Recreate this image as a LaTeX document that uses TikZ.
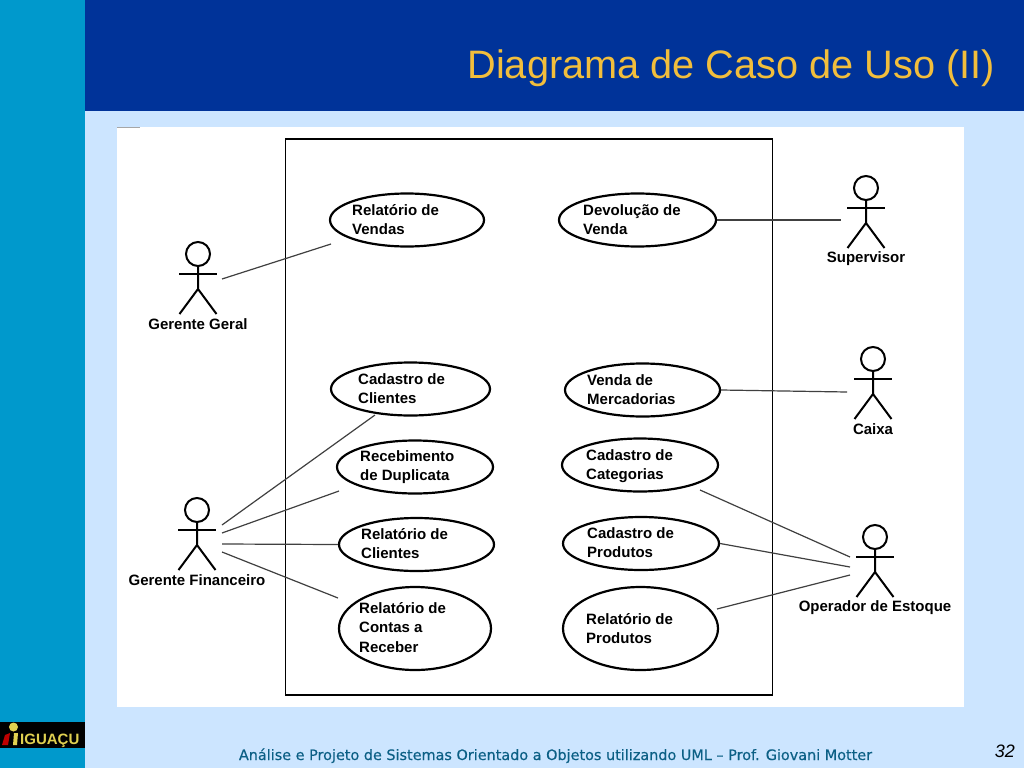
\documentclass[tikz,border=0pt]{standalone}
\usepackage{fontspec}
\setmainfont{Liberation Sans}
\newfontfamily\footfont[FakeBold=0.35]{DejaVu Sans}
\usetikzlibrary{shapes.geometric}

\definecolor{barBlue}{HTML}{003399}
\definecolor{sideBlue}{HTML}{0099CC}
\definecolor{paleBlue}{HTML}{CCE5FF}
\definecolor{titleGold}{HTML}{F2BE3C}
\definecolor{footBlue}{HTML}{0B5F85}
\definecolor{logoGold}{HTML}{E0D050}

\tikzset{
  usecase/.style={draw, ellipse, line width=2.2pt, minimum height=53pt, inner sep=0pt},
  caselabel/.style={font=\fontsize{15}{19.5}\selectfont\bfseries, align=left, anchor=north west, inner sep=0pt},
  actorname/.style={font=\fontsize{15}{16}\selectfont\bfseries, inner sep=0pt, anchor=base},
  assoc/.style={draw=black!75, line width=1.2pt},
  limb/.style={line width=2pt}
}

% head centre, name
\newcommand{\actor}[4]{
  \coordinate (#4) at (#1, #2);
  \draw[limb] (#4) ++(0, 0) circle (12);
  \draw[limb] (#4) ++(0, 12) -- ++(0, 23) -- ++(-18.5, 25) ++(18.5, -25) -- ++(18.5, 25);
  \draw[limb] (#4) ++(-19, 20) -- ++(38, 0);
  \node[actorname] (#4Label) at (#1, #2 + #3) {\actorText};
}

\begin{document}
\begin{tikzpicture}[x=1pt, y=-1pt]
      \useasboundingbox (0, 0) rectangle (1024, 768);

      % Slide
      \fill[paleBlue] (0, 0) rectangle (1024, 768);
      \fill[sideBlue] (0, 0) rectangle (85, 768);
      \fill[barBlue] (85, 0) rectangle (1024, 110.5);
      \node[anchor=base east, inner sep=0pt, text=titleGold, font=\fontsize{39.7}{44}\selectfont] (title) at (995, 78) {Diagrama de Caso de Uso (II)};
      \fill[white] (117, 127) rectangle (964, 707);
      \draw[black!35, line width=0.7pt] (117, 127.5) -- (140, 127.5);

      % Logo
      \fill[black] (0, 722) rectangle (85, 748);
      \fill[logoGold] (13.5, 727) circle (4.5);
      \fill[red!75!black] (2, 745) -- (5, 735) -- (10, 733) -- (8, 745) -- cycle;
      \fill[logoGold] (14, 733) -- (18, 733) -- (17, 745) -- (13, 745) -- cycle;
      \node[anchor=base west, inner sep=0pt, text=logoGold, font=\fontsize{15}{16}\selectfont\bfseries] (logo) at (20, 744.5) {IGUAÇU};

      % Footer
      \node[anchor=base, inner sep=0pt, text=footBlue, font=\footfont\fontsize{14.4}{16}\selectfont] (footer) at (555.5, 760) {Análise e Projeto de Sistemas Orientado a Objetos utilizando UML – Prof. Giovani Motter};
      \node[anchor=base east, inner sep=0pt, text=black, font=\fontsize{18}{20}\selectfont\itshape] (pageNum) at (1015, 757) {32};

      % Sistema
      \node[draw, line width=1.3pt, minimum width=487pt, minimum height=556pt, inner sep=0pt] (sistema) at (529, 417) {};

      % Casos de uso
      \node[usecase, minimum width=154pt] (relVendas) at (407, 220) {};
      \node[usecase, minimum width=157pt] (devolucao) at (637.5, 220) {};
      \node[usecase, minimum width=159pt] (cadClientes) at (410.5, 389) {};
      \node[usecase, minimum width=155pt] (vendaMerc) at (642.5, 390) {};
      \node[usecase, minimum width=156pt] (recebimento) at (415, 467) {};
      \node[usecase, minimum width=156pt] (cadCategorias) at (640, 465) {};
      \node[usecase, minimum width=155pt] (relClientes) at (416.5, 544.5) {};
      \node[usecase, minimum width=156pt] (cadProdutos) at (641, 543.5) {};
      \node[usecase, minimum width=152pt, minimum height=83pt] (relContas) at (415, 628.5) {};
      \node[usecase, minimum width=155pt, minimum height=83pt] (relProdutos) at (640.5, 628.5) {};

      \node[caselabel] (relVendasText) at (352, 204) {Relatório de\\Vendas};
      \node[caselabel] (devolucaoText) at (583, 204) {Devolução de\\Venda};
      \node[caselabel] (cadClientesText) at (358, 373) {Cadastro de\\Clientes};
      \node[caselabel] (vendaMercText) at (587, 374) {Venda de\\Mercadorias};
      \node[caselabel] (recebimentoText) at (360, 450) {Recebimento\\de Duplicata};
      \node[caselabel] (cadCategoriasText) at (586, 449) {Cadastro de\\Categorias};
      \node[caselabel] (relClientesText) at (361, 528) {Relatório de\\Clientes};
      \node[caselabel] (cadProdutosText) at (587, 527) {Cadastro de\\Produtos};
      \node[caselabel] (relContasText) at (359, 602) {Relatório de\\Contas a\\Receber};
      \node[caselabel] (relProdutosText) at (586, 613) {Relatório de\\Produtos};

      % Atores
      \def\actorText{Gerente Geral}
      \actor{198}{254}{75}{gerenteGeral}
      \def\actorText{Gerente Financeiro}
      \actor{197}{510}{75}{gerenteFin}
      \def\actorText{Supervisor}
      \actor{866}{188}{74.5}{supervisor}
      \def\actorText{Caixa}
      \actor{873}{359}{75}{caixa}
      \def\actorText{Operador de Estoque}
      \actor{875}{537}{74.5}{operador}

      % Pontas livres
      \coordinate (ggOut) at (222, 279);
      \coordinate (ggIn) at (331, 244);
      \coordinate (gfOutA) at (222, 525);
      \coordinate (gfOutB) at (222, 533);
      \coordinate (gfOutC) at (222, 544);
      \coordinate (gfOutD) at (222, 552);
      \coordinate (gfInA) at (375, 415);
      \coordinate (gfInB) at (339, 491);
      \coordinate (gfInD) at (338, 598);
      \coordinate (supOut) at (841, 220);
      \coordinate (caixaOut) at (847, 392);
      \coordinate (opOutA) at (850, 557);
      \coordinate (opOutB) at (850, 567);
      \coordinate (opOutC) at (850, 575);
      \coordinate (opInA) at (700, 490);
      \coordinate (opInC) at (717, 609);

      % Associacoes
      \draw[assoc] (ggOut) -- (ggIn);
      \draw[assoc] (gfOutA) -- (gfInA);
      \draw[assoc] (gfOutB) -- (gfInB);
      \draw[assoc] (gfOutC) -- (relClientes.west);
      \draw[assoc] (gfOutD) -- (gfInD);
      \draw[assoc] (devolucao.east) -- (supOut);
      \draw[assoc] (vendaMerc.east) -- (caixaOut);
      \draw[assoc] (opInA) -- (opOutA);
      \draw[assoc] (cadProdutos.east) -- (opOutB);
      \draw[assoc] (opInC) -- (opOutC);
    \end{tikzpicture}
\end{document}
